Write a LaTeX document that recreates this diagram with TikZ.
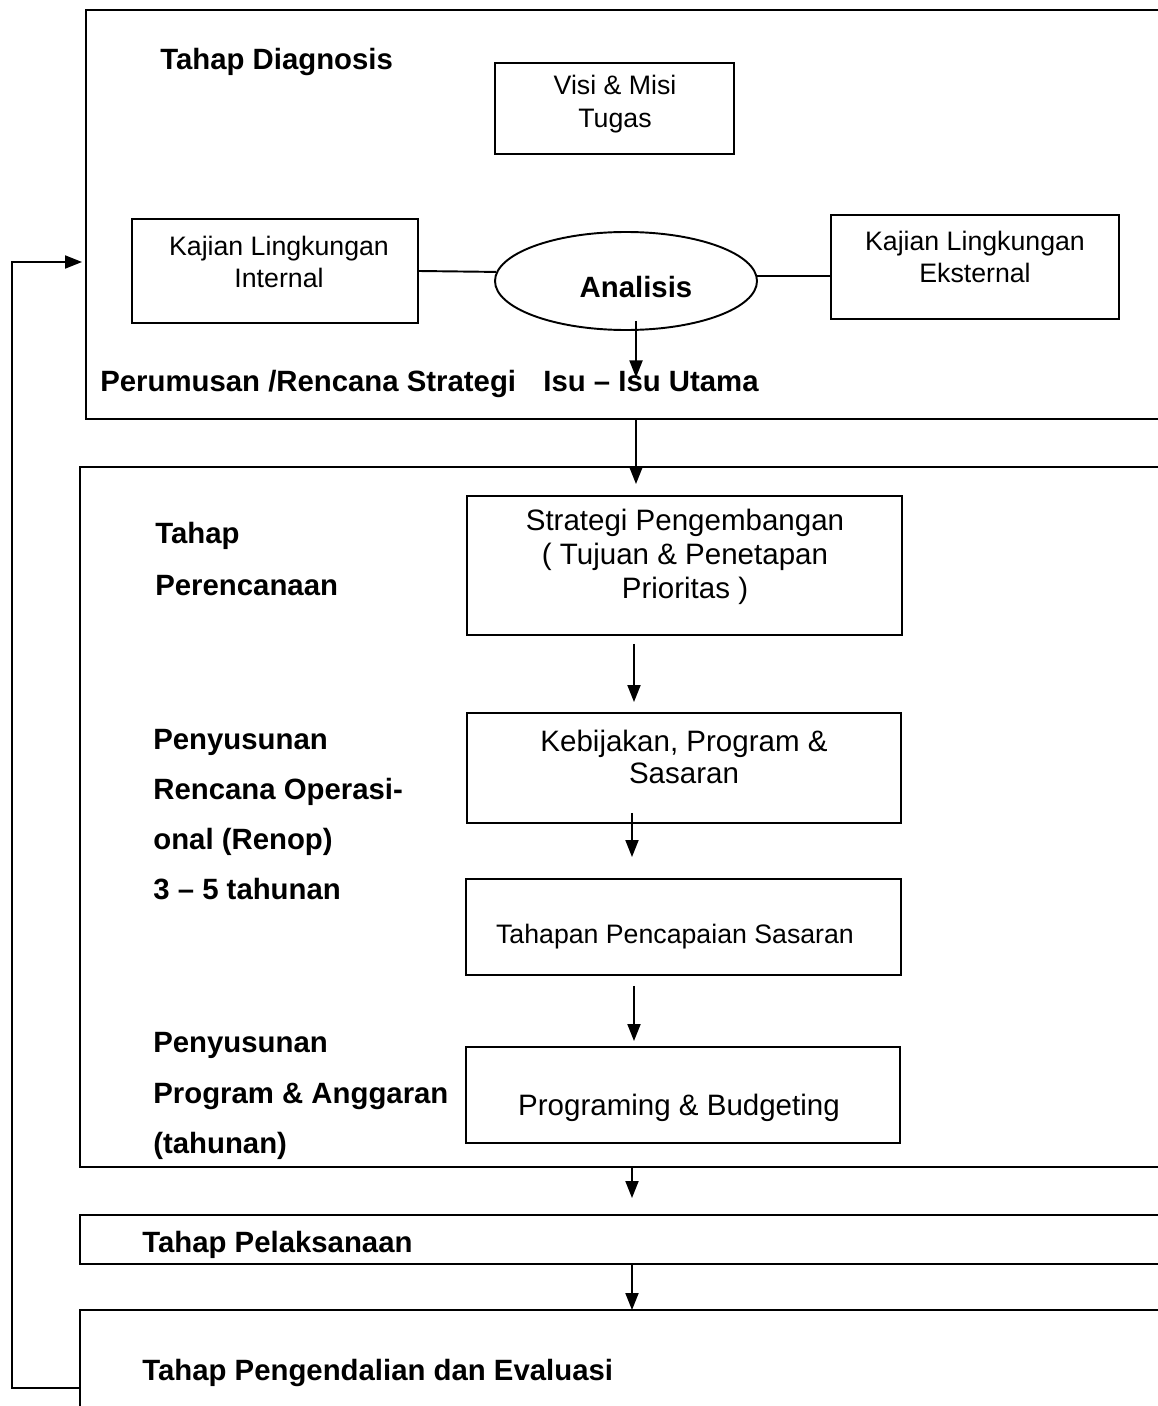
\documentclass[tikz,border=0pt]{standalone}
\usepackage{fontspec}
\setmainfont{Liberation Sans}
\usetikzlibrary{arrows.meta,positioning,shapes.geometric}
\tikzset{
  kotak/.style 2 args={draw, line width=1.1pt, inner sep=0pt,
    minimum width=#1*0.02cm, minimum height=#2*0.02cm},
  isi/.style={inner sep=0pt, align=center, font=\fontsize{15.2}{18.5}\selectfont},
  isibesar/.style={isi, font=\fontsize{16.8}{19}\selectfont},
  judul/.style={inner sep=0pt, anchor=base west, font=\fontsize{16.7}{20}\selectfont\bfseries},
  garis/.style={line width=1.1pt},
  tepi/.style={line width=1.3pt},
  panah/.style={line width=1.1pt, -{Triangle[length=3.4mm, width=2.6mm]}},
}

\begin{document}
\begin{tikzpicture}[x=0.02cm, y=-0.02cm]
\useasboundingbox (0,0) rectangle (1158,1406);

% panel tahap
\draw[tepi] (1158,10) -| (86,419) -- (1158,419);
\draw[tepi] (1158,467) -| (80,1167) -- (1158,1167);
\draw[tepi] (1158,1215) -| (80,1264) -- (1158,1264);
\draw[tepi] (1158,1310) -| (80,1406);
\coordinate (bawah1) at (636,419);
\coordinate (bawah2) at (632,1167);
\coordinate (atas3) at (632,1215);
\coordinate (bawah3) at (632,1264);
\coordinate (atas4) at (632,1310);
\coordinate (balik) at (80,1388);
\coordinate (masuk) at (86,262);

% sumbu panah
\coordinate (sumbu1) at (636,0);
\coordinate (sumbu2) at (634,0);
\coordinate (sumbu3) at (632,0);

% tahap diagnosis
\node[judul] (diagnosis) at (160,70) {Tahap Diagnosis};
\node[kotak={239}{91}] (visi) at (614.5,108.5) {};
\node[isi] (visiT) at (615,104) {Visi \& Misi\\Tugas};
\node[kotak={286}{104}] (internal) at (275,271) {};
\node[isi] (internalT) at (279,262) {Kajian Lingkungan\\Internal};
\node[draw, ellipse, line width=1.1pt, inner sep=0pt,
  minimum width=262*0.02cm, minimum height=98*0.02cm] (analisis) at (626,281) {};
\node[judul, anchor=base] (analisisT) at (636,297) {Analisis};
\node[kotak={288}{104}] (eksternal) at (975,267) {};
\node[isi] (eksternalT) at (975,257) {Kajian Lingkungan\\Eksternal};
\node[judul] (perumusan) at (100,391) {Perumusan /Rencana Strategi};
\node[judul] (isu) at (543,391) {Isu – Isu Utama};

\draw[garis] (internal.east) -- (analisis.176);
\draw[garis] (analisis.2) -- (analisis.2 -| eksternal.west);
\draw[panah, shorten <=-0.2cm, shorten >=-0.14cm] (analisis.south -| sumbu1) -- (isu.north -| sumbu1);

% tahap perencanaan
\node[judul] (tahap) at (155,543) {Tahap};
\node[judul] (perencanaan) at (155,595) {Perencanaan};
\foreach \teks [count=\i] in {Penyusunan, Rencana Operasi-, onal (Renop), 3 – 5 tahunan}
  \node[judul] (renop\i) at (153,{749+50*(\i-1)}) {\teks};
\node[judul] (anggaran1) at (153,1052) {Penyusunan};
\node[judul] (anggaran2) at (153,1103) {Program \& Anggaran};
\node[judul] (anggaran3) at (153,1153) {(tahunan)};

\node[kotak={435}{139}] (strategi) at (684.5,565.5) {};
\node[isibesar, font=\fontsize{16.8}{19.4}\selectfont] (strategiT) at (685,557)
  {Strategi Pengembangan\\( Tujuan \& Penetapan\\Prioritas )};
\node[kotak={434}{110}] (kebijakan) at (684,768) {};
\node[isibesar, font=\fontsize{16.8}{18.3}\selectfont] (kebijakanT) at (684,757) {Kebijakan, Program \&\\Sasaran};
\node[kotak={435}{96}] (tahapan) at (683.5,927) {};
\node[isi] (tahapanT) at (675,937) {Tahapan Pencapaian Sasaran};
\node[kotak={434}{96}] (program) at (683,1095) {};
\node[isibesar] (programT) at (679,1108) {Programing \& Budgeting};

\draw[panah, shorten >=0.22cm] (bawah1) -- (strategi.north -| bawah1);
\draw[panah, shorten <=0.16cm, shorten >=0.2cm] (strategi.south -| sumbu2) -- (kebijakan.north -| sumbu2);
\draw[panah, shorten <=-0.22cm, shorten >=0.42cm] (kebijakan.south -| sumbu3) -- (tahapan.north -| sumbu3);
\draw[panah, shorten <=0.2cm, shorten >=0.1cm] (tahapan.south -| sumbu2) -- (program.north -| sumbu2);

% pelaksanaan, pengendalian
\node[judul] (pelaksanaan) at (142,1252) {Tahap Pelaksanaan};
\node[judul] (pengendalian) at (142,1380) {Tahap Pengendalian dan Evaluasi};
\draw[panah, shorten >=0.34cm] (bawah2) -- (atas3);
\draw[panah] (bawah3) -- (atas4);
\draw[panah, shorten >=0.08cm] (balik) -- ++(-68,0) |- (masuk);
\end{tikzpicture}
\end{document}
